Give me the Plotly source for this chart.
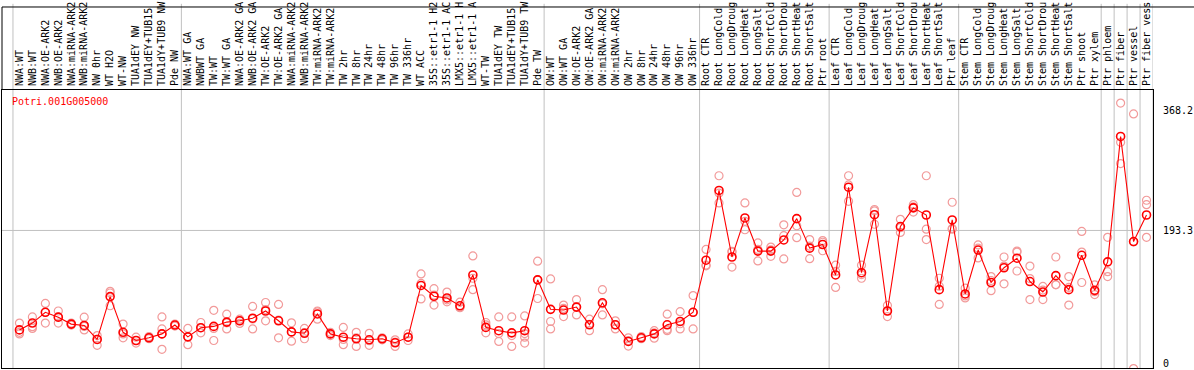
import plotly.graph_objects as go

gene_id = "Potri.001G005000"

groups = [
    ["NWA:WT", "NWB:WT", "NWA:OE-ARK2", "NWB:OE-ARK2", "NWA:miRNA-ARK2", "NWB:miRNA-ARK2",
     "NW 0hr", "WT H2O", "WT-NW", "TUA1dEY NW", "TUA1dEY+TUB15 NW", "TUA1dY+TUB9 NW", "Pde NW"],
    ["NWA:WT GA", "NWBWT GA", "TW:WT", "TW:WT GA", "NWA:OE-ARK2 GA", "NWB:OE-ARK2 GA",
     "TW:OE-ARK2", "TW:OE-ARK2 GA", "NWA:miRNA-ARK2 GA", "NWB:miRNA-ARK2 GA", "TW:miRNA-ARK2",
     "TW:miRNA-ARK2 GA", "TW 2hr", "TW 8hr", "TW 24hr", "TW 48hr", "TW 96hr", "TW 336hr",
     "WT ACC", "35S::etr1-1 H2O", "35S::etr1-1 ACC", "LMX5::etr1-1 H2O", "LMX5::etr1-1 ACC",
     "WT-TW", "TUA1dEY TW", "TUA1dEY+TUB15 TW", "TUA1dY+TUB9 TW", "Pde TW"],
    ["OW:WT", "OW:WT GA", "OW:OE-ARK2", "OW:OE-ARK2 GA", "OW:miRNA-ARK2", "OW:miRNA-ARK2 GA",
     "OW 2hr", "OW 8hr", "OW 24hr", "OW 48hr", "OW 96hr", "OW 336hr"],
    ["Root CTR", "Root LongCold", "Root LongDrought", "Root LongHeat", "Root LongSalt",
     "Root ShortCold", "Root ShortDrought", "Root ShortHeat", "Root ShortSalt", "Ptr root"],
    ["Leaf CTR", "Leaf LongCold", "Leaf LongDrought", "Leaf LongHeat", "Leaf LongSalt",
     "Leaf ShortCold", "Leaf ShortDrought", "Leaf ShortHeat", "Leaf ShortSalt", "Ptr leaf"],
    ["Stem CTR", "Stem LongCold", "Stem LongDrought", "Stem LongHeat", "Stem LongSalt",
     "Stem ShortCold", "Stem ShortDrought", "Stem ShortHeat", "Stem ShortSalt", "Ptr shoot", "Ptr xylem"],
    ["Ptr phloem"], ["Ptr fiber"], ["Ptr vessel"], ["Ptr fiber vessel"],
]

categories = [c for g in groups for c in g]

mean_values = [
    48.3, 58.3, 74.0, 66.9, 56.8, 54.8, 34.4, 96.9, 44.8, 32.9, 36.8, 42.5, 55.4,
    38.2, 51.5, 53.4, 59.7, 61.6, 65.4, 75.9, 61.6, 45.4, 43.4, 71.6, 42.5, 37.7,
    35.4, 33.9, 35.4, 29.6, 37.7, 113.1, 97.4, 94.9, 83.5, 128.4, 52.0, 47.2, 44.0,
    47.2, 121.3,
    78.3, 77.3, 81.6, 55.8, 87.8, 55.8, 31.5, 36.8, 42.5, 55.8, 60.6, 74.0,
    149.9, 251.6, 154.6, 211.5, 163.2, 163.2, 179.4, 210.5, 167.5, 172.8,
    128.4, 256.3, 131.7, 216.2, 75.9, 199.0, 226.2, 215.8, 107.0, 208.6,
    100.7, 164.7, 117.4, 138.9, 152.8, 118.8, 103.5, 127.4, 107.0, 157.1, 106.0,
    147.5, 330.3, 177.1, 215.8,
]

rep_values = [
    [58.3, 44.8, 42.5], [67.3, 53.0, 50.5], [86.9, 74.0, 58.3], [75.9, 66.9, 58.3],
    [58.3, 56.8, 55.4], [66.9, 53.4, 48.3], [40.1, 34.4, 25.8], [104.5, 102.1, 83.5],
    [56.8, 42.5, 36.8], [37.7, 32.9, 29.1], [38.7, 36.8, 35.4], [67.3, 49.7, 42.5, 20.0],
    [56.8, 53.9, 55.4],
    [50.5, 26.8, 38.2], [59.1, 44.0, 51.5], [76.9, 32.9, 50.5], [71.2, 49.7, 58.7],
    [64.0, 57.7, 61.6], [82.6, 49.7, 64.4], [88.3, 61.6, 78.0], [85.5, 36.8, 62.6],
    [58.7, 31.9, 45.4], [50.5, 35.4, 44.4], [75.9, 64.0, 74.5], [44.8, 40.1, 42.5],
    [52.0, 26.8, 34.4], [44.8, 24.3, 36.8], [43.4, 25.8, 32.5], [36.8, 33.9, 35.4],
    [33.9, 24.3, 30.5], [42.5, 32.9, 37.7], [129.9, 93.5, 116.0], [108.4, 84.5, 99.2],
    [103.5, 89.2, 92.1], [88.8, 80.6, 81.2], [156.1, 107.0, 123.6], [59.1, 44.0, 55.8],
    [67.3, 31.5, 43.0], [67.3, 24.3, 40.1], [68.7, 29.1, 37.7, 43.0], [148.5, 94.1, 121.3],
    [122.7, 60.6, 49.7], [84.5, 67.7, 79.8], [92.6, 70.2, 82.0], [64.0, 47.2, 56.3],
    [107.0, 70.2, 86.3], [61.6, 49.7, 55.8], [36.8, 24.8, 32.9], [38.7, 35.4, 36.8],
    [47.2, 36.2, 44.0], [71.2, 47.2, 49.1], [74.9, 49.7, 57.3], [98.4, 49.7, 74.0],
    [165.7, 142.7, 141.7], [273.0, 233.4, 247.7], [162.8, 139.9, 161.8], [233.4, 194.3, 206.6],
    [175.1, 148.9, 165.7], [169.0, 155.6, 165.1], [201.5, 185.7, 151.8], [248.7, 182.8, 200.0],
    [180.0, 152.2, 170.4], [178.5, 176.1, 163.7],
    [142.7, 110.2, 133.6], [273.0, 235.8, 259.6], [142.7, 123.6, 128.9], [223.8, 202.3, 221.9],
    [84.0, 67.7, 75.9], [209.5, 190.4, 197.2], [230.9, 220.1, 227.7], [273.0, 195.2, 180.0],
    [123.6, 85.5, 112.1], [234.4, 196.2, 195.2],
    [109.2, 94.9, 97.8], [172.2, 153.2, 167.5], [126.0, 105.5, 120.3], [154.6, 115.5, 141.3],
    [163.2, 134.2, 161.8], [141.3, 92.6, 123.1], [111.7, 92.6, 106.4], [154.6, 114.1, 114.5],
    [126.0, 84.5, 110.2], [191.9, 117.4, 161.8], [114.1, 99.8, 104.1],
    [183.3, 133.2, 126.0], [379.0, 321.7, 290.7], [363.2, -8.0, 176.7], [237.3, 230.9, 183.3],
]

y_tick_vals = [0, 193.3, 368.2]
y_tick_text = ["0", "193.3", "368.2"]
grid_value = 193.3

MONO = "DejaVu Sans Mono"
x_idx = list(range(len(categories)))

rep_x, rep_y = [], []
for i, reps in enumerate(rep_values):
    for v in reps:
        rep_x.append(i)
        rep_y.append(v)

fig = go.Figure()
fig.add_trace(go.Scatter(
    x=rep_x, y=rep_y, mode="markers",
    marker=dict(symbol="circle-open", size=8, color="#f29a9a", line=dict(width=1.2, color="#f29a9a")),
    hoverinfo="skip", showlegend=False,
))
fig.add_trace(go.Scatter(
    x=x_idx, y=mean_values, mode="lines+markers",
    line=dict(color="#ff0000", width=1.1),
    marker=dict(symbol="circle-open", size=8, color="#ff0000", line=dict(width=1.6, color="#ff0000")),
    showlegend=False,
))

# group boundaries
shapes = []
pos = -0.5
bounds = [pos]
for g in groups:
    pos += len(g)
    bounds.append(pos)
top_paper = 1 + 84.5 / 283
for b in bounds:
    shapes.append(dict(type="line", xref="x", yref="paper", x0=b, x1=b, y0=0, y1=1.31,
                       line=dict(color="#c0c0c0", width=1), layer="below"))
shapes.append(dict(type="line", xref="paper", yref="y", x0=0, x1=1, y0=grid_value, y1=grid_value,
                   line=dict(color="#c0c0c0", width=1), layer="below"))
# outer frame of label band
shapes.append(dict(type="line", xref="paper", yref="paper", x0=0, x1=1.04, y0=top_paper, y1=top_paper,
                   line=dict(color="black", width=1)))
shapes.append(dict(type="line", xref="paper", yref="paper", x0=0, x1=0, y0=1, y1=top_paper,
                   line=dict(color="black", width=1)))

fig.update_layout(
    width=1194, height=370,
    margin=dict(l=1, r=38, t=85, b=2, pad=0),
    paper_bgcolor="white", plot_bgcolor="white",
    shapes=shapes,
    font=dict(family=MONO, size=10, color="black"),
    annotations=[dict(text=gene_id, xref="paper", yref="paper", x=0.0069, y=0.9576,
                      xanchor="left", yanchor="middle", showarrow=False,
                      font=dict(family=MONO, size=10, color="#ff0000"))],
)
fig.update_xaxes(
    range=[-1.346, 87.5], side="top", tickmode="array", tickvals=x_idx,
    ticktext=[c[:14] for c in categories], tickangle=-90,
    tickfont=dict(family=MONO, size=10, color="black"),
    ticks="", showgrid=False, zeroline=False,
    showline=True, mirror=True, linecolor="black", linewidth=1,
    ticklabelstandoff=1,
)
fig.update_yaxes(
    range=[-7.2, 398], side="right", tickmode="array", tickvals=y_tick_vals, ticktext=y_tick_text,
    tickfont=dict(family=MONO, size=10, color="black"),
    ticks="", showgrid=False, zeroline=False,
    showline=True, mirror=True, linecolor="black", linewidth=1,
    ticklabelstandoff=7,
)

fig.write_html("out.html", config={"displayModeBar": False},
               post_script="document.body.style.margin='0';")
